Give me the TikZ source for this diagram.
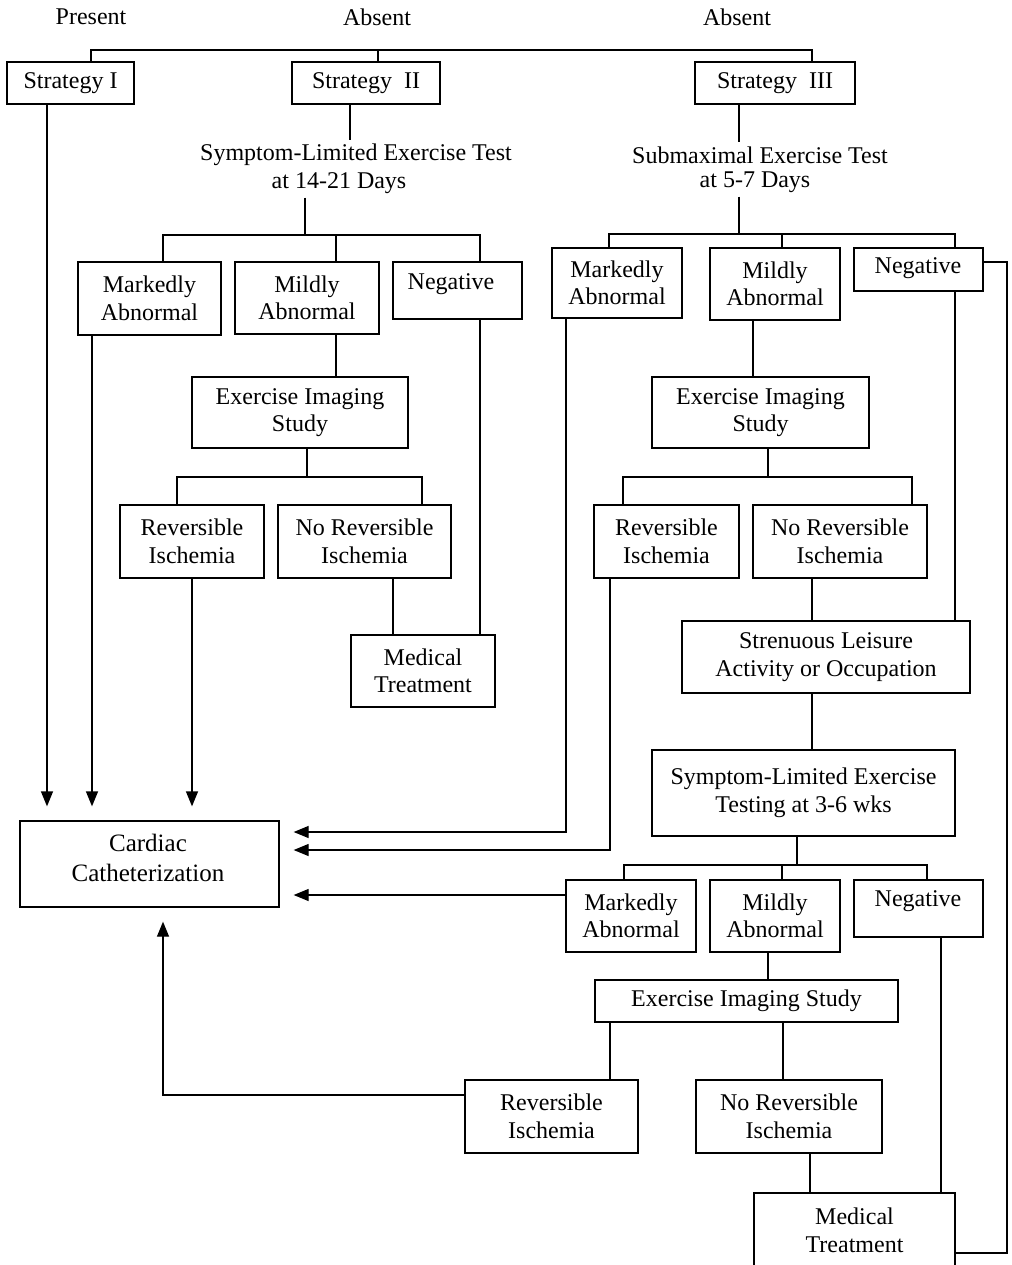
\documentclass[tikz,border=0pt]{standalone}
\usepackage{fontspec}
\setmainfont{Liberation Serif}
\usetikzlibrary{arrows.meta}
\begin{document}
\begin{tikzpicture}[x=1pt,y=-1pt,
  every node/.style={font=\fontsize{24}{27.5}\selectfont, align=center},
  bx/.style args={#1/#2/#3/#4}{draw, line width=1.3pt, inner sep=0pt,
    minimum width={(#3-#1)*1pt}, minimum height={(#4-#2)*1pt},
    at={({(#1+#3)/2},{(#2+#4)/2})}},
  lbl/.style={inner sep=4pt},
  wire/.style={line width=1.3pt},
  arr/.style={wire, -{Triangle[length=15pt,width=12pt]}, shorten >=14pt}]
\useasboundingbox (0,0) rectangle (1011,1265);

% column headings
\node (pres) at (91,17) {Present};
\node (abs2) at (377,17) {Absent};
\node (abs3) at (737,17) {Absent};

% strategies
\node[bx=7/62/134/104] (s1) {Strategy I};
\node[bx=292/62/440/104] (s2) {Strategy\ \ II};
\node[bx=695/62/855/104] (s3) {Strategy\ \ III};

\coordinate (tl) at (91,50);
\coordinate (tm) at (378,50);
\coordinate (tr) at (812,50);
\draw[wire] (s1.north -| tl) -- (tl) -- (tr) -- (s3.north -| tr);
\draw[wire] (tm) -- (s2.north -| tm);

% ---- Strategy II ----
\node[lbl] (t2a) at (356,155) {Symptom-Limited Exercise Test};
\node[lbl] (t2b) at (339,183) {at 14-21 Days};
\draw[wire] (s2.south -| 350,0) -- (t2a.north -| 350,0);

\node[bx=78/262/221/335] (mk2) {Markedly\\Abnormal};
\node[bx=235/262/379/334] (md2) {Mildly\\Abnormal};
\node[bx=393/262/522/319] (ng2) {};
\node (ng2t) at (451,284) {Negative};

\coordinate (j2) at (305,235);
\draw[wire] (t2b.south -| j2) -- (j2);
\draw[wire] (mk2.north -| 163,0) |- (j2) -| (ng2.north -| 480,0);
\draw[wire] (md2.north -| 336,0) -- (j2 -| 336,0);

\node[bx=192/377/408/448] (ei2) {Exercise Imaging\\Study};
\draw[wire] (md2.south -| 336,0) -- (ei2.north -| 336,0);

\node[bx=120/505/264/578] (rv2) {Reversible\\Ischemia};
\node[bx=278/505/451/578] (nr2) {No Reversible\\Ischemia};
\coordinate (k2) at (307,477);
\draw[wire] (ei2.south -| k2) -- (k2);
\draw[wire] (rv2.north -| 177,0) |- (k2) -| (nr2.north -| 422,0);

\node[bx=351/635/495/707] (mt2) {Medical\\Treatment};
\draw[wire] (nr2.south -| 393,0) -- (mt2.north -| 393,0);
\draw[wire] (ng2.south -| 480,0) -- (mt2.north -| 480,0);

% ---- Cardiac catheterization ----
\node[bx=20/821/279/907] (cc) {};
\node[font=\fontsize{25}{30}\selectfont] (cct) at (148,858) {Cardiac\\Catheterization};
\draw[arr] (s1.south -| 47,0) -- (cc.north -| 47,0);
\draw[arr] (mk2.south -| 92,0) -- (cc.north -| 92,0);
\draw[arr] (rv2.south -| 192,0) -- (cc.north -| 192,0);

% ---- Strategy III ----
\node[lbl] (t3a) at (760,155) {Submaximal Exercise Test};
\node[lbl] (t3b) at (755,182) {at 5-7 Days};
\draw[wire] (s3.south -| 739,0) -- (t3a.north -| 739,0);

\node[bx=552/248/682/318] (mk3) {Markedly\\Abnormal};
\node[bx=710/248/840/320] (md3) {Mildly\\Abnormal};
\node[bx=854/248/983/291] (ng3) {};
\node (ng3t) at (918,268) {Negative};

\coordinate (j3) at (739,234);
\draw[wire] (t3b.south -| j3) -- (j3);
\draw[wire] (mk3.north -| 609,0) |- (j3) -| (ng3.north -| 955,0);
\draw[wire] (md3.north -| 782,0) -- (j3 -| 782,0);

\node[bx=652/377/869/448] (ei3) {Exercise Imaging\\Study};
\draw[wire] (md3.south -| 753,0) -- (ei3.north -| 753,0);

\node[bx=594/505/739/578] (rv3) {Reversible\\Ischemia};
\node[bx=753/505/927/578] (nr3) {No Reversible\\Ischemia};
\coordinate (k3) at (768,477);
\draw[wire] (ei3.south -| k3) -- (k3);
\draw[wire] (rv3.north -| 623,0) |- (k3) -| (nr3.north -| 912,0);

\node[bx=682/621/970/693] (st3) {Strenuous Leisure\\Activity or Occupation};
\draw[wire] (nr3.south -| 812,0) -- (st3.north -| 812,0);
\draw[wire] (ng3.south -| 955,0) -- (st3.north -| 955,0);

\draw[arr] (mk3.south -| 566,0) |- (cc.east |- 0,832);
\draw[arr] (rv3.south -| 610,0) |- (cc.east |- 0,850);

\node[bx=652/750/955/836] (sl3) {Symptom-Limited Exercise\\Testing at 3-6 wks};
\draw[wire] (st3.south -| 812,0) -- (sl3.north -| 812,0);

\node[bx=566/880/696/952] (mk4) {Markedly\\Abnormal};
\node[bx=710/880/840/952] (md4) {Mildly\\Abnormal};
\node[bx=854/880/983/937] (ng4) {};
\node (ng4t) at (918,901) {Negative};

\coordinate (j4) at (797,865);
\draw[wire] (sl3.south -| j4) -- (j4);
\draw[wire] (mk4.north -| 624,0) |- (j4) -| (ng4.north -| 927,0);
\draw[wire] (md4.north -| 782,0) -- (j4 -| 782,0);
\draw[arr] (mk4.west |- 0,895) -- (cc.east |- 0,895);

\node[bx=595/980/898/1022] (ei4) {Exercise Imaging Study};
\draw[wire] (md4.south -| 768,0) -- (ei4.north -| 768,0);

\node[bx=465/1080/638/1153] (rv4) {Reversible\\Ischemia};
\node[bx=696/1080/882/1153] (nr4) {No Reversible\\Ischemia};
\draw[wire] (ei4.south -| 610,0) -- (rv4.north -| 610,0);
\draw[wire] (ei4.south -| 783,0) -- (nr4.north -| 783,0);
\draw[arr] (rv4.west |- 0,1095) -| (cc.south -| 163,0);

\node[bx=754/1193/955/1268] (mt4) {Medical\\Treatment};
\draw[wire] (nr4.south -| 810,0) -- (mt4.north -| 810,0);
\draw[wire] (ng4.south -| 941,0) -- (mt4.north -| 941,0);

\coordinate (rr) at (1007,262);
\draw[wire] (mt4.east |- 0,1253) -| (rr) -- (ng3.east |- rr);
\end{tikzpicture}
\end{document}
